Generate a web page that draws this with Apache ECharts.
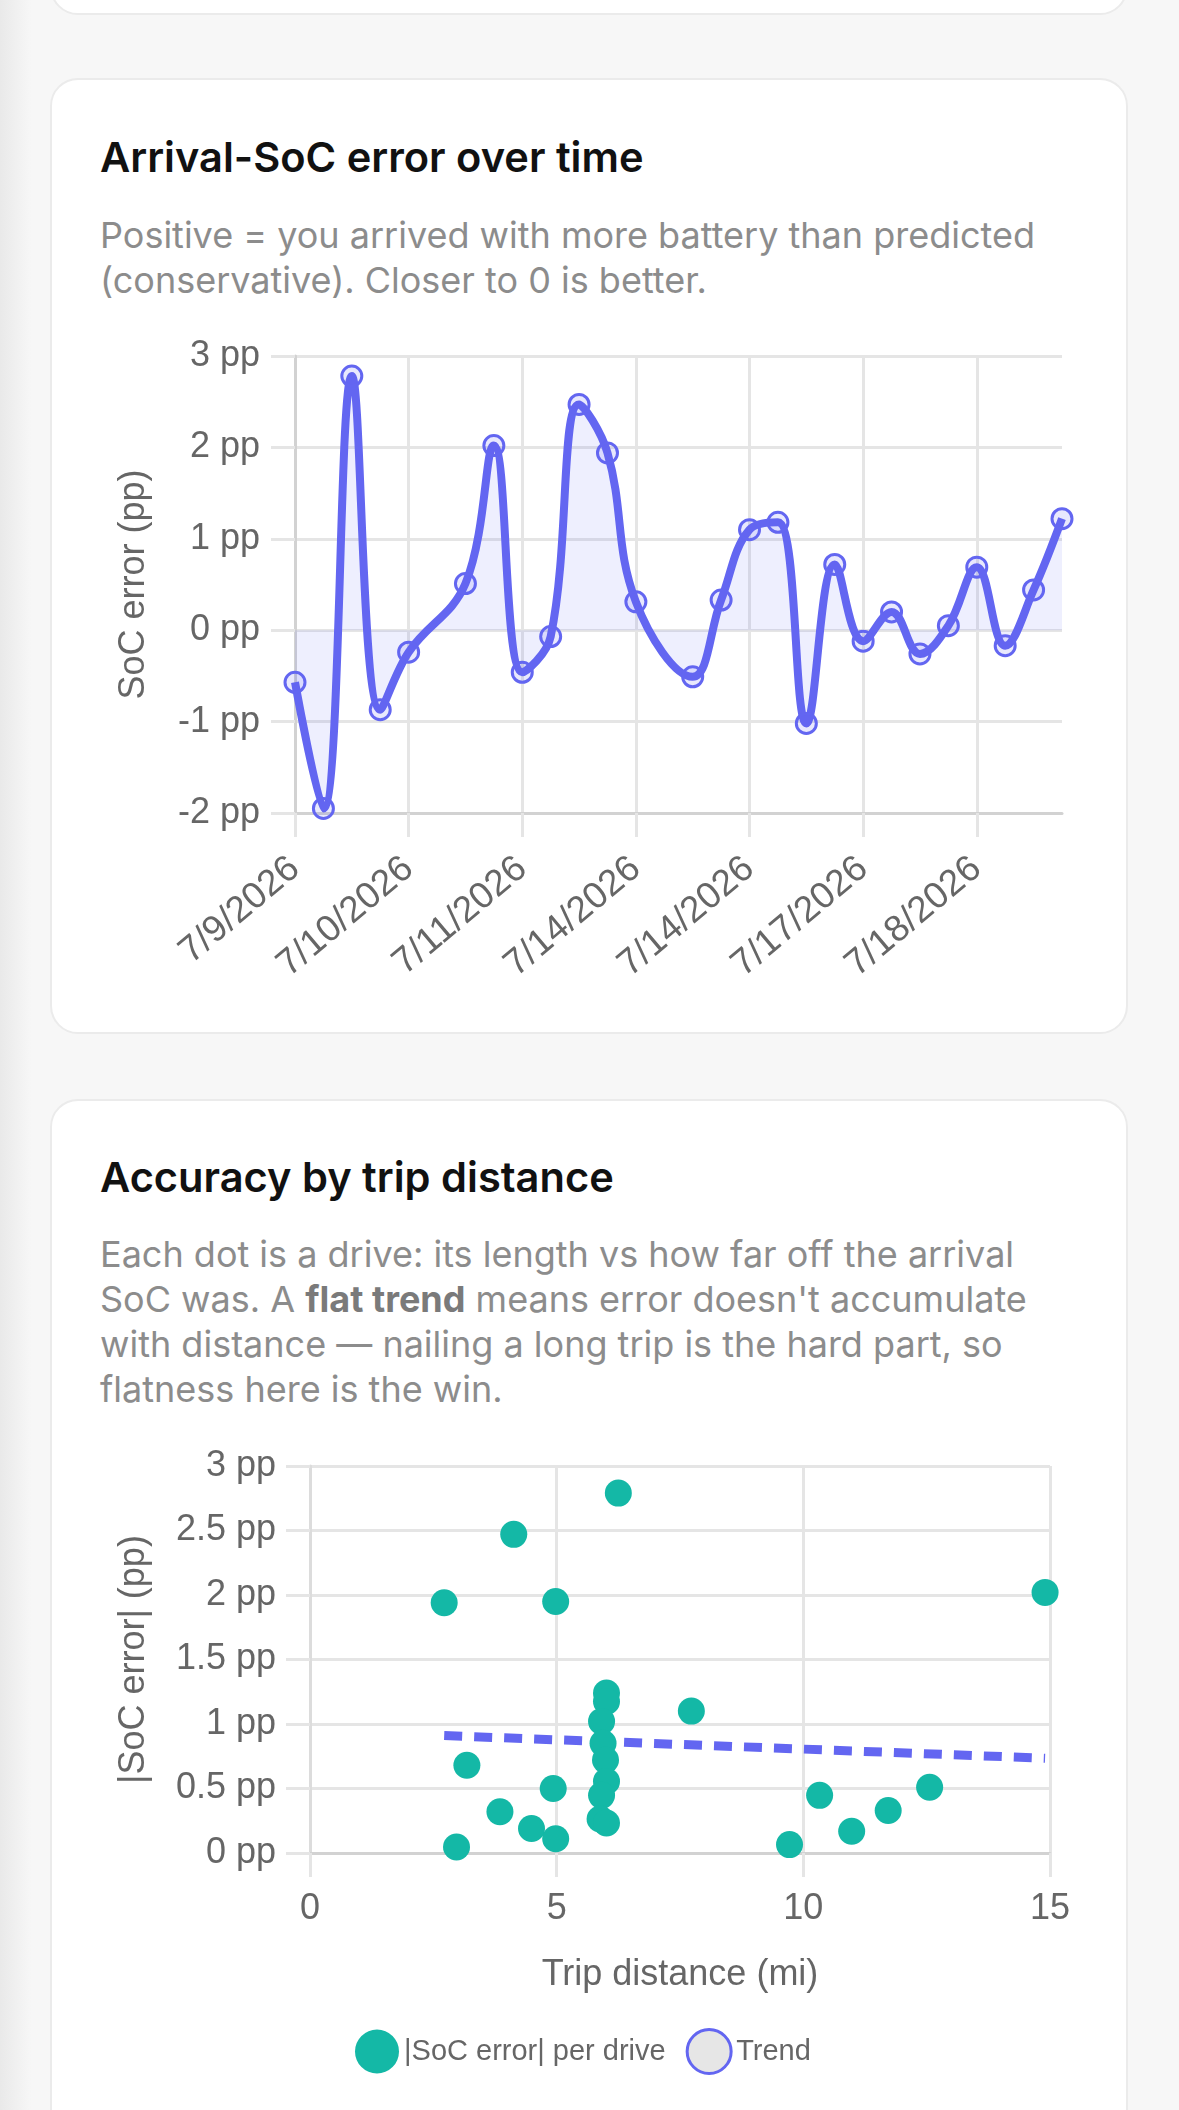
<!DOCTYPE html>
<html>
<head>
<meta charset="utf-8">
<script src="https://cdn.jsdelivr.net/npm/echarts@6/dist/echarts.min.js"></script>
<style>
  html, body { margin:0; padding:0; }
  body { width:1179px; height:2110px; position:relative; overflow:hidden;
         background: linear-gradient(to right, #e9e9e9 0px, #f7f7f7 32px, #f7f7f7 100%);
         font-family: Inter, "Noto Sans", sans-serif; }
  .card { position:absolute; left:50px; width:1078px; box-sizing:border-box;
          background:#fff; border:2px solid #ebebeb; border-radius:28px; }
  .title { position:absolute; left:100px; font-size:41.6px; line-height:41.6px; font-weight:600; color:#111; white-space:nowrap; }
  .sub { position:absolute; left:100px; font-size:36px; line-height:45px; color:#8c8c8c; white-space:nowrap; }
  .sub b { font-weight:700; color:#7a7a7a; }
  #chart { position:absolute; left:0; top:0; width:1179px; height:2110px; z-index:5; }
</style>
</head>
<body>
<div class="card" style="top:-200px;height:215px;"></div>
<div class="card" style="top:78px;height:956px;"></div>
<div class="card" style="top:1099px;height:1100px;"></div>

<div class="title" style="top:137px;">Arrival-SoC error over time</div>
<div class="sub" style="top:213px;">Positive = you arrived with more battery than predicted<br>(conservative). Closer to 0 is better.</div>

<div class="title" style="top:1157px;">Accuracy by trip distance</div>
<div class="sub" style="top:1232px;">Each dot is a drive: its length vs how far off the arrival<br>SoC was. A <b>flat trend</b> means error doesn't accumulate<br>with distance — nailing a long trip is the hard part, so<br>flatness here is the win.</div>

<div id="chart"></div>
<script>
// ---- data ----
const dates = [
  '7/9/2026','7/9/2026','7/9/2026','7/10/2026',
  '7/10/2026','7/10/2026','7/10/2026','7/11/2026',
  '7/11/2026','7/11/2026','7/12/2026','7/13/2026',
  '7/14/2026','7/14/2026','7/14/2026','7/14/2026',
  '7/14/2026','7/15/2026','7/16/2026','7/16/2026',
  '7/17/2026','7/17/2026','7/17/2026','7/18/2026',
  '7/18/2026','7/18/2026','7/19/2026','7/19/2026'
];
const socError = [
  -0.57, -1.95, 2.78, -0.87,
  -0.24, null, 0.51, 2.02,
  -0.46, -0.07, 2.47, 1.94,
  0.31, null, -0.51, 0.33,
  1.10, 1.18, -1.02, 0.72,
  -0.12, 0.20, -0.26, 0.05,
  0.69, -0.17, 0.44, 1.22
];
const tripDist = [6.25, 4.13, 2.72, 4.98, 14.9, 6.01, 6.01, 7.73, 5.91, 5.94, 5.99, 6.01, 5.91,
                  5.88, 6.01, 3.18, 4.93, 3.85, 4.49, 4.98, 2.97, 9.72, 10.33, 10.98, 11.72, 12.56];
const absError = [2.79, 2.47, 1.94, 1.95, 2.02, 1.24, 1.175, 1.10, 1.02, 0.85, 0.72, 0.555, 0.447,
                  0.263, 0.232, 0.68, 0.50, 0.32, 0.19, 0.11, 0.046, 0.065, 0.447, 0.168, 0.33, 0.51];
const trendX = [2.72, 14.9];
const trendY = [0.91, 0.735];
const tickSuffix = ' pp';

// ---- chart ----
const FONT = '"Liberation Sans", Arial, Helvetica, sans-serif';
const GRID = '#e5e5e5', BORDER = '#d2d2d2', TXT = '#666';
const chart = echarts.init(document.getElementById('chart'), null, {renderer:'canvas'});

const scatterData = tripDist.map((d, i) => [d, absError[i]]);
const trendData = trendX.map((x, i) => [x, trendY[i]]);

chart.setOption({
  animation: false,
  textStyle: { fontFamily: FONT },
  grid: [
    { left: 295, top: 356, width: 767, height: 457 },
    { left: 310, top: 1466, width: 740, height: 387 }
  ],
  xAxis: [
    { gridIndex: 0, type: 'category', data: dates, boundaryGap: false,
      axisLine: { show: true, onZero: false, lineStyle: { color: BORDER, width: 3 } },
      axisTick: { show: true, interval: 3, length: 24, lineStyle: { color: GRID, width: 3 } },
      axisLabel: { interval: 3, rotate: 40, fontSize: 37, color: TXT, margin: 51, fontFamily: FONT },
      splitLine: { show: true, interval: 3, lineStyle: { color: GRID, width: 3 } } },
    { gridIndex: 1, type: 'value', min: 0, max: 15, interval: 5,
      axisLine: { show: true, onZero: false, lineStyle: { color: BORDER, width: 3 } },
      axisTick: { show: true, length: 24, lineStyle: { color: GRID, width: 3 } },
      axisLabel: { fontSize: 36, color: TXT, margin: 38, fontFamily: FONT },
      splitLine: { show: true, lineStyle: { color: GRID, width: 3 } },
      name: 'Trip distance (mi)', nameLocation: 'middle', nameGap: 104,
      nameTextStyle: { fontSize: 36, color: TXT, fontFamily: FONT } }
  ],
  yAxis: [
    { gridIndex: 0, type: 'value', min: -2, max: 3, interval: 1,
      axisLine: { show: true, lineStyle: { color: BORDER, width: 3 } },
      axisTick: { show: true, length: 24, lineStyle: { color: GRID, width: 3 } },
      axisLabel: { formatter: v => v + tickSuffix, fontSize: 36, color: TXT, margin: 35, fontFamily: FONT },
      splitLine: { show: true, lineStyle: { color: GRID, width: 3 } },
      name: 'SoC error (pp)', nameLocation: 'middle', nameGap: 143,
      nameTextStyle: { fontSize: 36, color: TXT, fontFamily: FONT } },
    { gridIndex: 1, type: 'value', min: 0, max: 3, interval: 0.5,
      axisLine: { show: true, lineStyle: { color: '#dcdcdc', width: 3 } },
      axisTick: { show: true, length: 24, lineStyle: { color: GRID, width: 3 } },
      axisLabel: { formatter: v => v + tickSuffix, fontSize: 36, color: TXT, margin: 34, fontFamily: FONT },
      splitLine: { show: true, lineStyle: { color: GRID, width: 3 } },
      name: '|SoC error| (pp)', nameLocation: 'middle', nameGap: 158,
      nameTextStyle: { fontSize: 36, color: TXT, fontFamily: FONT } }
  ],
  legend: {
    left: 350, top: 2023, itemWidth: 44, itemHeight: 44, itemGap: 20,
    textStyle: { fontSize: 29, color: TXT, fontFamily: FONT },
    data: [
      { name: '|SoC error| per drive', icon: 'circle', itemStyle: { color: '#14b8a6', borderWidth: 0 } },
      { name: 'Trend', icon: 'circle', itemStyle: { color: '#e6e6e6', borderColor: '#6366f1', borderWidth: 3 } }
    ]
  },
  series: [
    { type: 'line', xAxisIndex: 0, yAxisIndex: 0, data: socError,
      smooth: 0.4, connectNulls: true, showAllSymbol: true,
      symbol: 'circle', symbolSize: 20,
      lineStyle: { color: '#6366f1', width: 8 },
      itemStyle: { color: 'rgba(99,102,241,0.15)', borderColor: '#6366f1', borderWidth: 3 },
      areaStyle: { color: 'rgba(99,102,241,0.15)', origin: 0 } },
    { name: 'Trend', type: 'line', xAxisIndex: 1, yAxisIndex: 1, data: trendData, z: 2,
      symbol: 'none',
      lineStyle: { color: '#6366f1', width: 9, type: [18, 12] },
      itemStyle: { color: '#e6e6e6', borderColor: '#6366f1', borderWidth: 3 } },
    { name: '|SoC error| per drive', type: 'scatter', xAxisIndex: 1, yAxisIndex: 1, data: scatterData, z: 3,
      symbolSize: 27, itemStyle: { color: '#14b8a6', opacity: 1 } }
  ]
});
</script>
</body>
</html>
